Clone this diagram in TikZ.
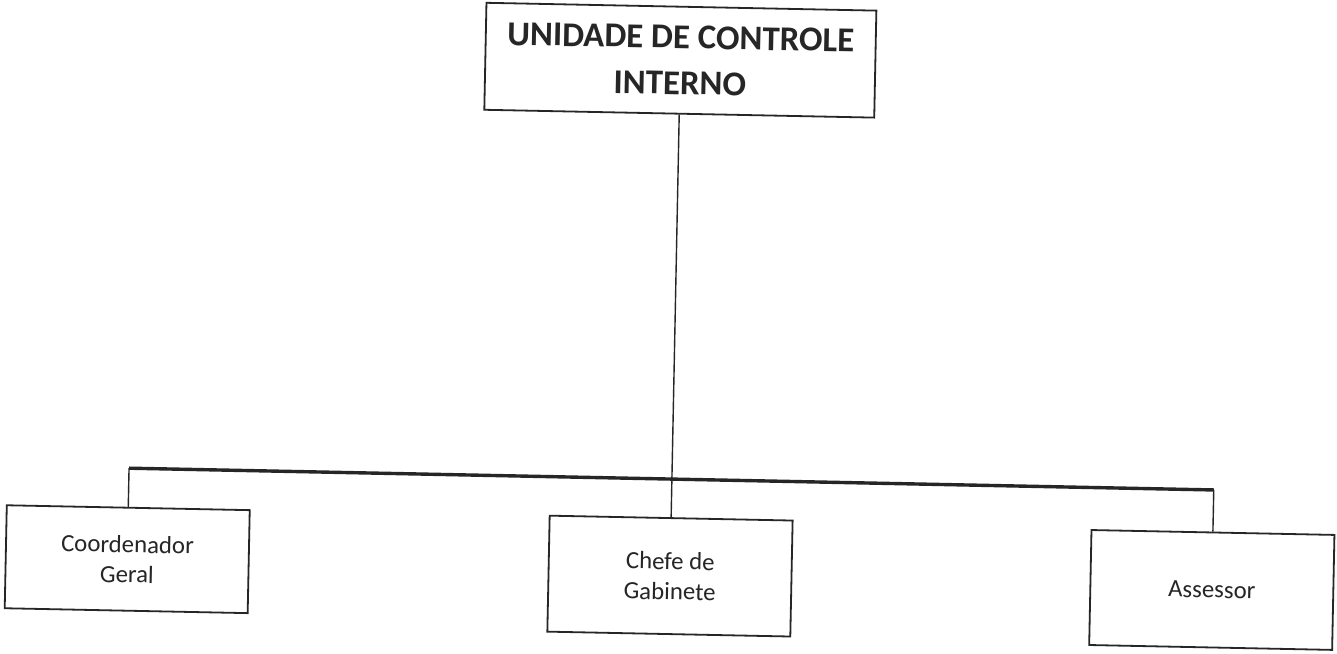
\documentclass[tikz,border=0pt]{standalone}
\usepackage{fontspec}
\setmainfont{Carlito}
\usepackage{xcolor}
\usepackage{tikz}

\definecolor{ink}{gray}{0.15}

\begin{document}
\begin{tikzpicture}[x=0.5pt, y=-0.5pt,
    cargo/.style={draw=ink, line width=0.9pt, rectangle, align=center, text=ink, inner sep=2pt, minimum width=121.5pt,
        font=\fontsize{12.4pt}{15pt}\selectfont}]
    \useasboundingbox (0, 0) rectangle (1337, 653);
    \fill[white] (0, 0) rectangle (1337, 653);

    \begin{scope}[rotate around={-1.15:(668, 326)}, transform shape]
    \node[cargo, minimum width=195pt, minimum height=53.5pt, font=\bfseries\fontsize{17.4pt}{23pt}\selectfont] at (675, 60) (root) {UNIDADE DE CONTROLE\\INTERNO};
    \node[cargo, minimum height=51.5pt] at (132, 570) (L1N1) {Coordenador\\Geral};
    \node[cargo, minimum height=58pt] at (675, 576) (L1N2) {Chefe de\\Gabinete};
    \node[cargo, minimum height=57.5pt] at (1217, 579) (L1N3) {Assessor};

    \coordinate (barL) at (132, 479);
    \coordinate (barR) at (1217, 479);

    \draw[ink, line width=0.7pt] (root.south) -- (L1N2.north);
    \draw[ink, line width=1.7pt] (barL) -- (barR);
    \draw[ink, line width=0.7pt] (barL) -- (L1N1.north);
    \draw[ink, line width=0.7pt] (barR) -- (L1N3.north);
    \end{scope}
\end{tikzpicture}
\end{document}
